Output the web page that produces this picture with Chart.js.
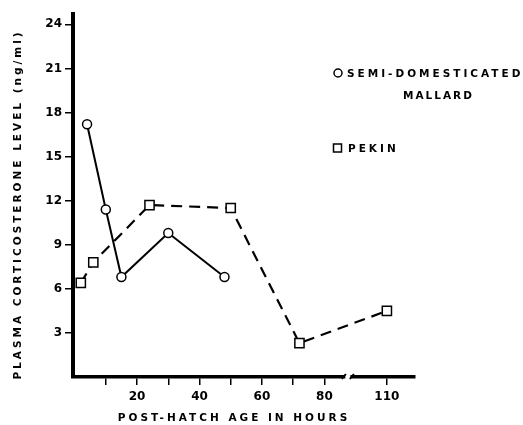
<!DOCTYPE html>
<html>
<head>
<meta charset="utf-8">
<script src="https://cdn.jsdelivr.net/npm/chart.js@4"></script>
<style>
  body { margin: 0; background: #fff; }
  canvas { display: block; }
</style>
</head>
<body>
<canvas id="chart" width="523" height="425"></canvas>
<script>
// --- Datos ---
const mallardHours = [4, 10, 15, 30, 48];
const mallardLevel = [17.2, 11.4, 6.8, 9.8, 6.8];
const pekinHours = [2, 6, 24, 50, 72, 110];
const pekinLevel = [6.4, 7.8, 11.7, 11.5, 2.3, 4.5];

const xMajorTicks = [20, 40, 60, 80, 110];
const xMinorTicks = [10, 30, 50, 70];
const yTicks = [3, 6, 9, 12, 15, 18, 21, 24];

const seriesLabels = ['SEMI-DOMESTICATED', 'PEKIN'];
const xTitle = 'POST-HATCH AGE IN HOURS';
const yTitle = 'PLASMA CORTICOSTERONE LEVEL (ng/ml)';

// Eje x cortado: todo lo que pasa de 90 h se corre 10 h a la izquierda
const BREAK_AT = 90;
const BREAK_SHIFT = 10;
const axisPos = h => (h > BREAK_AT ? h - BREAK_SHIFT : h);
const toPoints = (xs, ys) => xs.map((h, i) => ({ x: axisPos(h), y: ys[i] }));

const FONT = 'DejaVu Sans';

// --- Plugin: corte del eje x (//) ---
const axisBreak = {
  id: 'axisBreak',
  afterDraw(chart) {
    const { ctx } = chart;
    const x = chart.scales.x;
    const px = x.getPixelForValue(BREAK_AT - 2.5);
    const y = x.top;
    ctx.save();
    ctx.fillStyle = '#fff';
    ctx.fillRect(px - 2.5, y - 4, 5, 8);
    ctx.strokeStyle = '#000';
    ctx.lineWidth = 2;
    ctx.beginPath();
    ctx.moveTo(px - 6, y + 2); ctx.lineTo(px - 2, y - 3);
    ctx.moveTo(px + 2, y + 2); ctx.lineTo(px + 6, y - 3);
    ctx.stroke();
    ctx.restore();
  }
};

// --- Plugin: títulos de ejes y leyenda con letras espaciadas ---
const labelsPlugin = {
  id: 'labelsPlugin',
  afterDraw(chart) {
    const { ctx, chartArea } = chart;
    ctx.save();
    ctx.fillStyle = '#000';
    ctx.strokeStyle = '#000';
    ctx.font = `bold 10.5px ${FONT}`;
    ctx.letterSpacing = '3px';
    ctx.textBaseline = 'middle';

    // título eje x
    ctx.textAlign = 'center';
    ctx.fillText(xTitle, (chartArea.left + chartArea.right) / 2 - 10, 418);

    // título eje y
    ctx.save();
    ctx.translate(18, (chartArea.top + chartArea.bottom) / 2 + 9);
    ctx.rotate(-Math.PI / 2);
    ctx.fillText(yTitle, 0, 0);
    ctx.restore();

    // leyenda
    ctx.textAlign = 'left';
    ctx.lineWidth = 1.5;
    ctx.beginPath();
    ctx.arc(338, 73, 4, 0, Math.PI * 2);
    ctx.stroke();
    ctx.fillText(seriesLabels[0], 347, 74);
    ctx.letterSpacing = '2px';
    ctx.fillText('MALLARD', 403, 96);
    ctx.letterSpacing = '3px';

    ctx.strokeRect(333.5, 144, 8, 8);
    ctx.fillText(seriesLabels[1], 348, 149);
    ctx.restore();
  }
};

const ctx = document.getElementById('chart').getContext('2d');
new Chart(ctx, {
  type: 'line',
  data: {
    datasets: [
      {
        label: seriesLabels[0],
        data: toPoints(mallardHours, mallardLevel),
        borderColor: '#000',
        borderWidth: 2,
        pointStyle: 'circle',
        pointRadius: 4.5,
        pointBorderWidth: 1.5,
        pointBackgroundColor: '#fff',
        pointBorderColor: '#000',
        tension: 0
      },
      {
        label: seriesLabels[1],
        data: toPoints(pekinHours, pekinLevel),
        borderColor: '#000',
        borderWidth: 2.2,
        borderDash: [11, 7],
        pointStyle: 'rect',
        pointRadius: 6.5,
        pointBorderWidth: 1.5,
        pointBackgroundColor: '#fff',
        pointBorderColor: '#000',
        tension: 0
      }
    ]
  },
  options: {
    responsive: false,
    animation: false,
    layout: { padding: { top: 14, right: 108, left: 0, bottom: 0 } },
    plugins: { legend: { display: false }, tooltip: { enabled: false } },
    scales: {
      x: {
        type: 'linear',
        min: -0.5,
        max: 109,
        afterFit: s => { s.height = 48; },
        afterBuildTicks: s => {
          s.ticks = [...xMinorTicks, ...xMajorTicks]
            .map(axisPos).sort((a, b) => a - b).map(v => ({ value: v }));
        },
        border: { display: true, color: '#000', width: 3.5 },
        grid: { drawOnChartArea: false, drawTicks: true, tickLength: 8, color: '#000', lineWidth: 1.5 },
        ticks: {
          autoSkip: false,
          maxRotation: 0,
          padding: 5,
          color: '#000',
          font: { family: FONT, size: 12, weight: 'bold' },
          callback: v => {
            const h = xMajorTicks.find(t => axisPos(t) === v);
            return h === undefined ? '' : String(h);
          }
        }
      },
      y: {
        min: 0,
        max: 24.7,
        afterFit: s => { s.width = 73; },
        afterBuildTicks: s => { s.ticks = yTicks.map(v => ({ value: v })); },
        border: { display: true, color: '#000', width: 4 },
        grid: { drawOnChartArea: false, drawTicks: true, tickLength: 8, color: '#000', lineWidth: 1.5 },
        ticks: {
          padding: 3,
          color: '#000',
          font: { family: FONT, size: 12, weight: 'bold' }
        }
      }
    }
  },
  plugins: [axisBreak, labelsPlugin]
});
</script>
</body>
</html>
